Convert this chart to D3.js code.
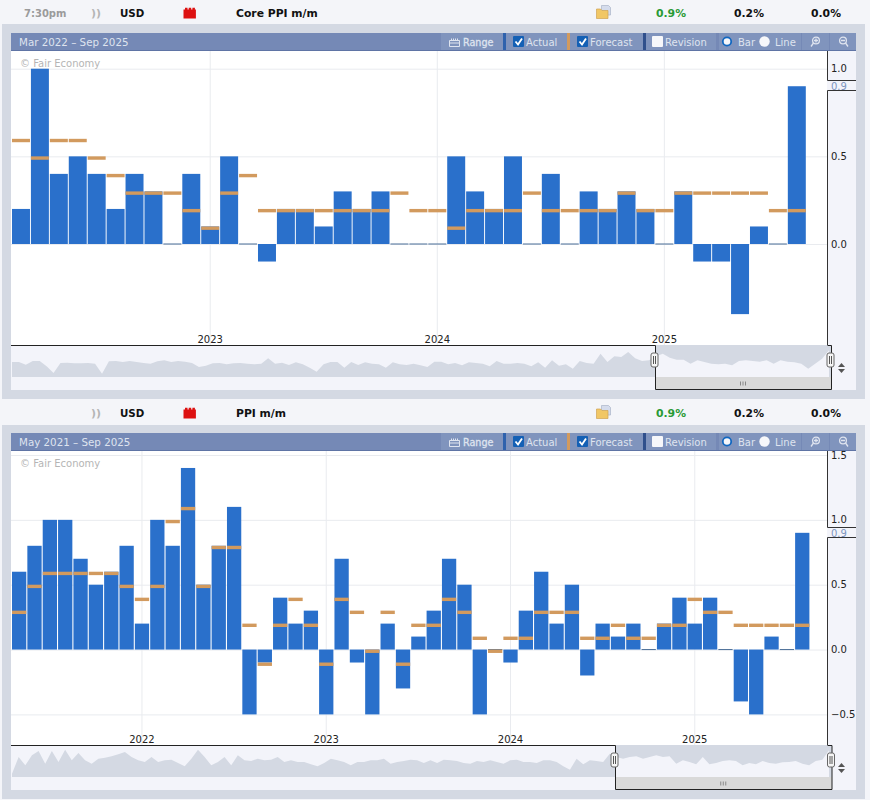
<!DOCTYPE html>
<html><head><meta charset="utf-8">
<script src="https://cdn.jsdelivr.net/npm/d3@7/dist/d3.min.js"></script>
<style>html,body{margin:0;padding:0;background:#f4f5f9}svg{display:block}text{font-family:"DejaVu Sans",Verdana,sans-serif}</style>
</head><body><svg id="c" width="870" height="800"></svg>
<script>
const coreMonths = d3.timeMonth.range(new Date(2022,2,1), new Date(2025,8,1));
const coreActual = [0.2,1.0,0.4,0.5,0.4,0.2,0.4,0.3,0,0.4,0.1,0.5,0,-0.1,0.2,0.2,0.1,0.3,0.2,0.3,0,0,0,0.5,0.3,0.2,0.5,0,0.4,0,0.3,0.2,0.3,0.2,0,0.3,-0.1,-0.1,-0.4,0.1,0,0.9];
const coreForecast = [0.6,0.5,0.6,0.6,0.5,0.4,0.3,0.3,0.3,0.2,0.1,0.3,0.4,0.2,0.2,0.2,0.2,0.2,0.2,0.2,0.3,0.2,0.2,0.1,0.2,0.2,0.2,0.3,0.2,0.2,0.2,0.2,0.3,0.2,0.2,0.3,0.3,0.3,0.3,0.3,0.2,0.2];
const ppiMonths = d3.timeMonth.range(new Date(2021,4,1), new Date(2025,8,1));
const ppiActual = [0.6,0.8,1.0,1.0,0.7,0.5,0.6,0.8,0.2,1.0,0.8,1.4,0.5,0.8,1.1,-0.5,-0.1,0.4,0.2,0.3,-0.5,0.7,-0.1,-0.5,0.2,-0.3,0.1,0.3,0.7,0.5,-0.5,0,-0.1,0.3,0.6,0.2,0.5,-0.2,0.2,0.1,0.2,0,0.2,0.4,0.2,0.4,0,-0.4,-0.5,0.1,0,0.9];
const ppiForecast = [0.3,0.5,0.6,0.6,0.6,0.6,0.6,0.5,0.4,0.5,1.0,1.1,0.5,0.8,0.8,0.2,-0.1,0.2,0.4,0.2,-0.1,0.4,0.3,0,0.3,-0.1,0.2,0.2,0.4,0.3,0.1,0,0.1,0.1,0.3,0.3,0.3,0.1,0.1,0.2,0.1,0.1,0.2,0.2,0.4,0.3,0.3,0.2,0.2,0.2,0.2,0.2];
const coreTicks = [0,0.5,1.0];
const ppiTicks = [-0.5,0,0.5,1.0,1.5];
const coreNav = [45,45,37,48,48,32,12,42,43,41,41,42,40,10,47,48,45,48,45,42,40,47,50,45,48,46,42,30,34,41,42,38,41,42,40,38,40,56,40,43,36,44,38,28,16,38,45,45,28,45,36,44,40,38,28,44,38,36,40,35,30,46,46,38,42,35,44,42,40,32,48,40,40,42,40,32,44,28,50,34,38,25,48,42,40,70,45,62,60,75,56,48,50,62,70,58,52,52,40,50,45,40,38,40,35,48,50,48,46,50,40,50,46,44,40,25,40,55,80];
const ppiNav = [10,60,35,65,78,40,78,45,82,50,72,50,40,55,58,62,68,75,60,50,45,60,45,50,52,42,32,55,82,60,35,45,60,35,65,50,48,55,50,52,60,45,50,45,45,38,32,42,55,50,45,35,45,45,50,50,55,40,45,48,52,50,42,50,42,52,50,48,42,40,48,45,50,45,40,50,52,45,45,42,50,50,45,32,22,55,38,50,48,45,70,60,55,60,62,55,60,65,60,62,40,50,45,38,60,38,42,48,50,48,35,42,38,48,42,40,44,45,48,40,35,48,52,80];

const C = {page:"#f4f5f9",band:"#d4d9e3",head:"#7589b6",btn:"#8094bd",panel:"#f3f4fa",grid:"#e9ebef",bar:"#2a70cb",zero:"#4b6f98",fc:"#d29a5e",txt:"#dfe4ef"};
const svg = d3.select("#c");
svg.append("rect").attr("width",870).attr("height",800).attr("fill",C.page);

function row(y,time,title){
  const g=svg.append("g");
  const base=y;
  if(time) g.append("text").attr("x",24).attr("y",base).attr("font-size",10).attr("font-weight","bold").attr("fill","#9b9b9b").text(time);
  g.append("text").attr("x",91).attr("y",base).attr("font-size",11).attr("fill","#b5b5b5").attr("font-weight","bold").text("))");
  g.append("text").attr("x",120).attr("y",base).attr("font-size",10.3).attr("font-weight","bold").attr("fill","#111").text("USD");
  g.append("path").attr("d",`M183.5 ${base+2}V${base-7}h1.5v-1.7h2.5v1.7h1.2v-1.7h2.5v1.7h1.2v-1.7h2.5v1.7h1v9z`).attr("fill","#dd1111");
  g.append("text").attr("x",236).attr("y",base).attr("font-size",10.8).attr("font-weight","bold").attr("fill","#111").text(title);
  g.append("path").attr("d",`M601.5 ${base-11}h7l2 2v7.5h-9z`).attr("fill","#d5dcec").attr("stroke","#aab5c8").attr("stroke-width",.7);
  g.append("path").attr("d",`M596.5 ${base-7.5}h4l1.5 1.5h6v8h-11.5z`).attr("fill","#f1c766").attr("stroke","#cfa453").attr("stroke-width",.7);
  g.append("text").attr("x",656).attr("y",base).attr("font-size",10.8).attr("font-weight","bold").attr("fill","#2a9a35").text("0.9%");
  g.append("text").attr("x",734).attr("y",base).attr("font-size",10.8).attr("font-weight","bold").attr("fill","#111").text("0.2%");
  g.append("text").attr("x",811).attr("y",base).attr("font-size",10.8).attr("font-weight","bold").attr("fill","#111").text("0.0%");
}

function header(y,label){
  const g=svg.append("g").attr("transform",`translate(0,${y})`);
  const H=18;
  g.append("rect").attr("x",11).attr("y",0).attr("width",845).attr("height",H).attr("fill",C.head);
  g.append("rect").attr("x",11).attr("y",H-1).attr("width",845).attr("height",1).attr("fill","#5f74a5");
  g.append("text").attr("x",19).attr("y",13).attr("font-size",10.3).attr("fill",C.txt).text(label);
  [[441,62],[506,61],[570,73],[646,70],[719,82],[802,27],[830,26]].forEach(([x,w])=>g.append("rect").attr("x",x).attr("y",0).attr("width",w).attr("height",H-1).attr("fill",C.btn));
  g.append("rect").attr("x",503).attr("y",0).attr("width",3).attr("height",H-1).attr("fill","#2f62ad");
  g.append("rect").attr("x",567).attr("y",0).attr("width",3).attr("height",H-1).attr("fill","#d29a5e");
  g.append("rect").attr("x",643).attr("y",0).attr("width",3).attr("height",H-1).attr("fill","#30508c");
  g.append("path").attr("d","M449.5 13.5v-6h10v6zM449.5 10h10M451.5 7.5v-2M457.5 7.5v-2M453.5 7.5v-2M455.5 7.5v-2").attr("fill","none").attr("stroke",C.txt).attr("stroke-width",1);
  g.append("text").attr("x",463).attr("y",13).attr("font-size",9.6).attr("fill",C.txt).attr("stroke",C.txt).attr("stroke-width",.3).text("Range");
  [[513,"Actual",526],[577,"Forecast",590]].forEach(([x,t,tx])=>{
    g.append("rect").attr("x",x).attr("y",3).attr("width",11).attr("height",11).attr("rx",1).attr("fill","#1460b5");
    g.append("path").attr("d",`M${x+2.5} 8.5l2.5 3l4-6`).attr("fill","none").attr("stroke","#fff").attr("stroke-width",1.8);
    g.append("text").attr("x",tx).attr("y",13).attr("font-size",10).attr("fill",C.txt).text(t);
  });
  g.append("rect").attr("x",652).attr("y",3).attr("width",11).attr("height",11).attr("rx",1).attr("fill","#f6f7fa");
  g.append("text").attr("x",665).attr("y",13).attr("font-size",10).attr("fill",C.txt).text("Revision");
  g.append("circle").attr("cx",727).attr("cy",8.5).attr("r",4.2).attr("fill","#f5f6fa").attr("stroke","#1167c0").attr("stroke-width",1.8);
  g.append("text").attr("x",738).attr("y",13).attr("font-size",10).attr("fill",C.txt).text("Bar");
  g.append("circle").attr("cx",764.5).attr("cy",8.5).attr("r",5.2).attr("fill","#f6f7fa");
  g.append("text").attr("x",775).attr("y",13).attr("font-size",10).attr("fill",C.txt).text("Line");
  g.append("circle").attr("cx",816).attr("cy",7.5).attr("r",3.4).attr("fill","none").attr("stroke",C.txt).attr("stroke-width",1.3);
  g.append("path").attr("d","M813.5 10l-2.5 3.5M814 7.5h4M816 5.5v4").attr("stroke",C.txt).attr("stroke-width",1.3);
  g.append("circle").attr("cx",843).attr("cy",7.5).attr("r",3.4).attr("fill","none").attr("stroke",C.txt).attr("stroke-width",1.3);
  g.append("path").attr("d","M845.5 10l2.5 3.5M841 7.5h4").attr("stroke",C.txt).attr("stroke-width",1.3);
}

function chart(o){
  const {top,bottom,navBottom,navBase,panelBottom,months,actual,forecast,y,ticks,barRight,pad,selX0,selX1,navData,ptrTop,ptrBot,yearY}=o;
  const g=svg.append("g");
  g.append("rect").attr("x",827).attr("y",top).attr("width",29).attr("height",panelBottom-top).attr("fill",C.panel);
  g.append("rect").attr("x",11).attr("y",top).attr("width",816).attr("height",bottom-top).attr("fill","#fff");
  const x=d3.scaleBand().domain(months.map(d=>+d)).range([12,barRight]).paddingInner(pad).paddingOuter(0);
  const tickMonths=months.filter(d=>d.getMonth()===0);
  g.append("g").selectAll("line").data(ticks).join("line")
    .attr("x1",11).attr("x2",827).attr("y1",d=>y(d)+.5).attr("y2",d=>y(d)+.5).attr("stroke",C.grid);
  g.append("g").selectAll("line").data(tickMonths).join("line")
    .attr("x1",d=>x(+d)+x.bandwidth()/2).attr("x2",d=>x(+d)+x.bandwidth()/2).attr("y1",top).attr("y2",bottom).attr("stroke",C.grid);
  const rows=months.map((m,i)=>({m:+m,a:actual[i],f:forecast[i]}));
  g.append("g").selectAll("rect").data(rows).join("rect")
    .attr("x",d=>x(d.m)).attr("width",x.bandwidth())
    .attr("y",d=>d.a===0?y(0)-.5:Math.min(y(d.a),y(0)))
    .attr("height",d=>d.a===0?1:Math.abs(y(d.a)-y(0)))
    .attr("fill",d=>d.a===0?C.zero:C.bar);
  g.append("g").selectAll("rect").data(rows).join("rect")
    .attr("x",d=>x(d.m)).attr("width",x.bandwidth())
    .attr("y",d=>y(d.f)).attr("height",3.4).attr("fill",C.fc);
  g.append("g").selectAll("text").data(tickMonths).join("text")
    .attr("x",d=>x(+d)+x.bandwidth()/2).attr("y",yearY).attr("text-anchor","middle").attr("font-size",10).attr("fill","#222")
    .text(d=>d.getFullYear());
  g.append("text").attr("x",20).attr("y",top+15.5).attr("font-size",10).attr("fill","#b5b5b5").text("© Fair Economy");
  g.append("g").selectAll("text").data(ticks).join("text")
    .attr("x",831).attr("y",d=>y(d)+3.6).attr("font-size",10).attr("fill","#222")
    .text(d=>d3.format(".1f")(d));
  g.append("path").attr("d",`M827.5 ${top}V${ptrTop}H856M856 ${ptrBot}H827.5V${bottom}`).attr("fill","none").attr("stroke","#333").attr("stroke-width",1);
  g.append("text").attr("x",831).attr("y",ptrBot-1).attr("font-size",10).attr("fill","#7d95bf").text("0.9");
  const nx=d3.scaleLinear().domain([0,navData.length-1]).range([12,829]);
  const ny=d3.scaleLinear().domain([0,96]).range([navBase,bottom]);
  const area=d3.area().x((d,i)=>nx(i)).y0(navBase).y1(d=>ny(d));
  g.append("rect").attr("x",11).attr("y",bottom).attr("width",820).attr("height",navBottom-bottom).attr("fill",C.panel);
  g.append("path").attr("d",area(navData)).attr("fill",C.band);
  const id="sel"+top;
  svg.append("clipPath").attr("id",id).append("rect").attr("x",selX0).attr("y",bottom).attr("width",selX1-selX0).attr("height",navBase-bottom);
  const s=g.append("g").attr("clip-path",`url(#${id})`);
  s.append("rect").attr("x",selX0).attr("y",bottom).attr("width",selX1-selX0).attr("height",navBase-bottom).attr("fill",C.band);
  s.append("path").attr("d",area(navData)).attr("fill",C.panel);
  g.append("rect").attr("x",selX0).attr("y",navBase).attr("width",selX1-selX0).attr("height",navBottom-1-navBase).attr("fill","#d9d9d9");
  g.append("path").attr("d",`M11 ${bottom+.5}H${selX0}V${navBottom-.5}H${selX1}V${bottom+.5}H827.5`).attr("fill","none").attr("stroke","#222").attr("stroke-width",1);
  const gx=(selX0+selX1)/2, gy=(navBase+navBottom)/2;
  g.append("path").attr("d",`M${gx-3} ${gy-2}v4M${gx-.5} ${gy-2}v4M${gx+2} ${gy-2}v4`).attr("stroke","#888").attr("stroke-width",1);
  [selX0-1.5,selX1-1.5].forEach(hx=>{
    const hy=bottom+8;
    g.append("rect").attr("x",hx-3).attr("y",hy).attr("width",7).attr("height",14).attr("rx",2).attr("fill","#f5f5f5").attr("stroke","#666");
    g.append("path").attr("d",`M${hx-.5} ${hy+3}v8M${hx+1.5} ${hy+3}v8`).attr("stroke","#555").attr("stroke-width",1);
  });
  const ay=bottom+23;
  g.append("path").attr("d",`M838 ${ay-1}l3.5-4l3.5 4zM838 ${ay+1}l3.5 4l3.5-4z`).attr("fill","#555");
}

svg.append("rect").attr("x",2).attr("y",24).attr("width",863).attr("height",375).attr("fill",C.band);
svg.append("rect").attr("x",2).attr("y",425).attr("width",863).attr("height",374).attr("fill",C.band);
row(16.5,"7:30pm","Core PPI m/m");
row(416.5,null,"PPI m/m");
header(33,"Mar 2022 – Sep 2025");
header(433,"May 2021 – Sep 2025");

chart({top:51,bottom:345,navBottom:390,navBase:377,panelBottom:390,months:coreMonths,actual:coreActual,forecast:coreForecast,
  y:d3.scaleLinear().domain([0,1]).range([244,68.7]),ticks:coreTicks,barRight:805.8,pad:0.05,selX0:655.5,selX1:831.5,
  navData:coreNav,ptrTop:80.5,ptrBot:90.5,yearY:343});
chart({top:451,bottom:745,navBottom:790,navBase:777,panelBottom:790,months:ppiMonths,actual:ppiActual,forecast:ppiForecast,
  y:d3.scaleLinear().domain([-0.5,1.5]).range([714.4,455]),ticks:ppiTicks,barRight:809.4,pad:0.07,selX0:615.5,selX1:832,
  navData:ppiNav,ptrTop:527.5,ptrBot:537.5,yearY:742.5});
</script></body></html>
